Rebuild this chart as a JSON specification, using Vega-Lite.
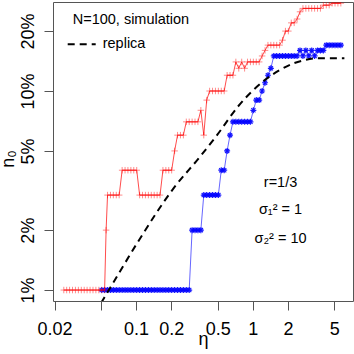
{
  "$schema": "https://vega.github.io/schema/vega-lite/v6.json",
  "width": 300,
  "height": 299,
  "autosize": {"type": "none"},
  "padding": {"left": 53, "top": 2, "right": 1, "bottom": 53},
  "background": "white",
  "config": {
    "font": "Liberation Sans",
    "view": {"stroke": "#555555", "strokeWidth": 1},
    "axis": {
      "domain": false, "grid": false, "tickColor": "#555555", "tickSize": 9, "tickWidth": 1,
      "labelFontSize": 18, "labelColor": "black", "labelFont": "Liberation Sans",
      "titleFontSize": 18, "titleFontWeight": "normal", "titleColor": "black", "titleFont": "Liberation Sans",
      "labelFlush": false, "labelOverlap": false
    }
  },
  "datasets": {
    "sim": [
      {"eta":0.0240,"red":0.01},
      {"eta":0.0254,"red":0.01},
      {"eta":0.0269,"red":0.01},
      {"eta":0.0285,"red":0.01},
      {"eta":0.0302,"red":0.01},
      {"eta":0.0320,"red":0.01},
      {"eta":0.0339,"red":0.01},
      {"eta":0.0359,"red":0.01},
      {"eta":0.0380,"red":0.01},
      {"eta":0.0403,"red":0.01},
      {"eta":0.0427,"red":0.01},
      {"eta":0.0452,"red":0.01},
      {"eta":0.0479,"red":0.01},
      {"eta":0.0507,"red":0.01,"blue":0.01},
      {"eta":0.0537,"red":0.01,"blue":0.01},
      {"eta":0.0553,"red":0.02},
      {"eta":0.0569,"red":0.03,"blue":0.01},
      {"eta":0.0603,"red":0.03,"blue":0.01},
      {"eta":0.0638,"red":0.03,"blue":0.01},
      {"eta":0.0676,"red":0.03,"blue":0.01},
      {"eta":0.0716,"red":0.03,"blue":0.01},
      {"eta":0.0759,"red":0.04,"blue":0.01},
      {"eta":0.0804,"red":0.04,"blue":0.01},
      {"eta":0.0851,"red":0.04,"blue":0.01},
      {"eta":0.0902,"red":0.04,"blue":0.01},
      {"eta":0.0955,"red":0.04,"blue":0.01},
      {"eta":0.1012,"red":0.04,"blue":0.01},
      {"eta":0.1072,"red":0.03,"blue":0.01},
      {"eta":0.1135,"red":0.03,"blue":0.01},
      {"eta":0.1202,"red":0.03,"blue":0.01},
      {"eta":0.1274,"red":0.03,"blue":0.01},
      {"eta":0.1349,"red":0.03,"blue":0.01},
      {"eta":0.1429,"red":0.03,"blue":0.01},
      {"eta":0.1514,"red":0.03,"blue":0.01},
      {"eta":0.1603,"red":0.03,"blue":0.01},
      {"eta":0.1698,"red":0.04,"blue":0.01},
      {"eta":0.1799,"red":0.04,"blue":0.01},
      {"eta":0.1905,"red":0.04,"blue":0.01},
      {"eta":0.2018,"red":0.04,"blue":0.01},
      {"eta":0.2138,"red":0.05,"blue":0.01},
      {"eta":0.2265,"red":0.06,"blue":0.01},
      {"eta":0.2399,"red":0.06,"blue":0.01},
      {"eta":0.2541,"red":0.06,"blue":0.01},
      {"eta":0.2692,"red":0.07,"blue":0.01},
      {"eta":0.2851,"red":0.07,"blue":0.01},
      {"eta":0.3020,"red":0.07,"blue":0.02},
      {"eta":0.3199,"red":0.07,"blue":0.02},
      {"eta":0.3388,"red":0.07,"blue":0.02},
      {"eta":0.3589,"red":0.08,"blue":0.02},
      {"eta":0.3802,"red":0.06,"blue":0.03},
      {"eta":0.4027,"red":0.09,"blue":0.03},
      {"eta":0.4266,"red":0.10,"blue":0.03},
      {"eta":0.4519,"red":0.10,"blue":0.03},
      {"eta":0.4786,"red":0.10,"blue":0.03},
      {"eta":0.5070,"red":0.10,"blue":0.03},
      {"eta":0.5370,"red":0.10,"blue":0.04},
      {"eta":0.5689,"red":0.10,"blue":0.04},
      {"eta":0.6026,"red":0.12,"blue":0.05},
      {"eta":0.6383,"red":0.12,"blue":0.06},
      {"eta":0.6761,"red":0.12,"blue":0.07},
      {"eta":0.7161,"red":0.14,"blue":0.07},
      {"eta":0.7586,"red":0.13,"blue":0.07},
      {"eta":0.8035,"red":0.14,"blue":0.07},
      {"eta":0.8511,"red":0.13,"blue":0.07},
      {"eta":0.9016,"red":0.14,"blue":0.07},
      {"eta":0.9550,"red":0.14,"blue":0.07},
      {"eta":1.0116,"red":0.14,"blue":0.08},
      {"eta":1.0715,"red":0.14,"blue":0.09},
      {"eta":1.135,"red":0.14,"blue":0.09},
      {"eta":1.202,"red":0.15,"blue":0.10},
      {"eta":1.274,"red":0.16,"blue":0.11},
      {"eta":1.349,"red":0.17,"blue":0.12},
      {"eta":1.429,"red":0.17,"blue":0.13},
      {"eta":1.514,"red":0.17,"blue":0.15},
      {"eta":1.603,"red":0.17,"blue":0.15},
      {"eta":1.698,"red":0.17,"blue":0.15},
      {"eta":1.799,"red":0.18,"blue":0.15},
      {"eta":1.905,"red":0.20,"blue":0.15},
      {"eta":2.018,"red":0.20,"blue":0.15},
      {"eta":2.138,"red":0.22,"blue":0.15},
      {"eta":2.265,"red":0.22,"blue":0.15},
      {"eta":2.399,"red":0.23,"blue":0.15},
      {"eta":2.541,"red":0.25,"blue":0.16},
      {"eta":2.692,"red":0.26,"blue":0.15},
      {"eta":2.851,"red":0.26,"blue":0.16},
      {"eta":3.020,"red":0.26,"blue":0.15},
      {"eta":3.199,"red":0.26,"blue":0.16},
      {"eta":3.388,"red":0.26,"blue":0.15},
      {"eta":3.589,"red":0.26,"blue":0.16},
      {"eta":3.802,"red":0.26,"blue":0.16},
      {"eta":4.027,"red":0.27,"blue":0.16},
      {"eta":4.266,"red":0.27,"blue":0.17},
      {"eta":4.519,"red":0.27,"blue":0.17},
      {"eta":4.786,"red":0.276,"blue":0.17},
      {"eta":5.070,"red":0.276,"blue":0.17},
      {"eta":5.370,"red":0.276,"blue":0.17},
      {"eta":5.689,"red":0.276,"blue":0.17}
    ],
    "replica": [
      {"eta":0.0500,"n0":0.0086},
      {"eta":0.0602,"n0":0.0103},
      {"eta":0.102,"n0":0.0172},
      {"eta":0.21,"n0":0.0325},
      {"eta":0.35,"n0":0.0465},
      {"eta":0.499,"n0":0.0605},
      {"eta":0.74,"n0":0.083},
      {"eta":0.99,"n0":0.100},
      {"eta":1.21,"n0":0.111},
      {"eta":1.73,"n0":0.128},
      {"eta":2.26,"n0":0.138},
      {"eta":2.78,"n0":0.143},
      {"eta":3.58,"n0":0.146},
      {"eta":6.1,"n0":0.146}
    ],
    "notes": [
      {"eta":1.73,"n0":0.0344,"label":"r=1/3"},
      {"eta":1.73,"n0":0.0251,"label":"σ₁² = 1"},
      {"eta":1.73,"n0":0.0180,"label":"σ₂² = 10"}
    ]
  },
  "encoding": {
    "x": {
      "field": "eta", "type": "quantitative",
      "scale": {"type": "log", "domain": [0.01939, 7.23], "nice": false},
      "axis": {
        "values": [0.02, 0.05, 0.1, 0.2, 0.5, 1, 2, 5],
        "format": "~g",
        "labelExpr": "datum.value == 0.05 ? '' : datum.label",
        "labelBaseline": "alphabetic", "labelPadding": 24,
        "title": "η", "titleBaseline": "alphabetic", "titleY": 43.8
      }
    },
    "y": {
      "field": "n0", "type": "quantitative",
      "scale": {"type": "log", "domain": [0.00881, 0.28], "nice": false},
      "axis": {
        "values": [0.01, 0.02, 0.05, 0.1, 0.2],
        "format": ".0%",
        "labelAngle": 270, "labelAlign": "center", "labelBaseline": "alphabetic", "labelPadding": 10.4,
        "title": "n₀", "titleAngle": 270, "titleBaseline": "alphabetic", "titleX": -39.5, "titleY": 156.5
      }
    }
  },
  "layer": [
    {
      "data": {"name": "sim"},
      "transform": [{"fold": ["red", "blue"], "as": ["s", "n0"]}, {"filter": "datum.s == 'blue' && isValid(datum.n0)"}],
      "mark": {"type": "line", "stroke": "#0000ff", "strokeWidth": 1, "opacity": 0.6, "clip": true}
    },
    {
      "data": {"name": "sim"},
      "transform": [{"fold": ["red", "blue"], "as": ["s", "n0"]}, {"filter": "datum.s == 'blue' && isValid(datum.n0)"}],
      "mark": {"type": "point", "shape": "M-1,0L1,0M0,-1L0,1M-0.7,-0.7L0.7,0.7M-0.7,0.7L0.7,-0.7", "filled": false, "stroke": "#0000ff", "strokeWidth": 1.2, "size": 36, "opacity": 0.9, "clip": true}
    },
    {
      "data": {"name": "sim"},
      "transform": [{"fold": ["red", "blue"], "as": ["s", "n0"]}, {"filter": "datum.s == 'red' && isValid(datum.n0)"}],
      "mark": {"type": "line", "stroke": "#ff0000", "strokeWidth": 1, "opacity": 0.7, "clip": true}
    },
    {
      "data": {"name": "sim"},
      "transform": [{"fold": ["red", "blue"], "as": ["s", "n0"]}, {"filter": "datum.s == 'red' && isValid(datum.n0)"}],
      "mark": {"type": "point", "shape": "M-1,0L1,0M0,-1L0,1", "filled": false, "stroke": "#ff0000", "strokeWidth": 1, "size": 42, "opacity": 0.45, "clip": true}
    },
    {
      "data": {"name": "replica"},
      "mark": {"type": "line", "stroke": "black", "strokeWidth": 2, "interpolate": "monotone", "clip": true},
      "encoding": {
        "strokeDash": {
          "datum": "replica", "type": "nominal",
          "scale": {"domain": ["replica"], "range": [[7, 5]]},
          "legend": {
            "orient": "none", "legendX": 19.7, "legendY": 10.5,
            "title": "N=100, simulation", "titleFontSize": 14.5, "titleFontWeight": "normal",
            "titleFont": "Liberation Sans", "titleColor": "black", "titlePadding": 2.3,
            "labelFontSize": 14.5, "labelFont": "Liberation Sans", "labelColor": "black",
            "symbolType": "stroke", "symbolSize": 784, "symbolStrokeWidth": 2, "symbolStrokeColor": "black",
            "symbolOffset": -6, "labelOffset": 6, "padding": 0
          }
        }
      }
    },
    {
      "data": {"name": "notes"},
      "mark": {"type": "text", "fontSize": 14.5, "font": "Liberation Sans", "align": "center", "baseline": "middle", "color": "black"},
      "encoding": {"text": {"field": "label"}}
    }
  ]
}
